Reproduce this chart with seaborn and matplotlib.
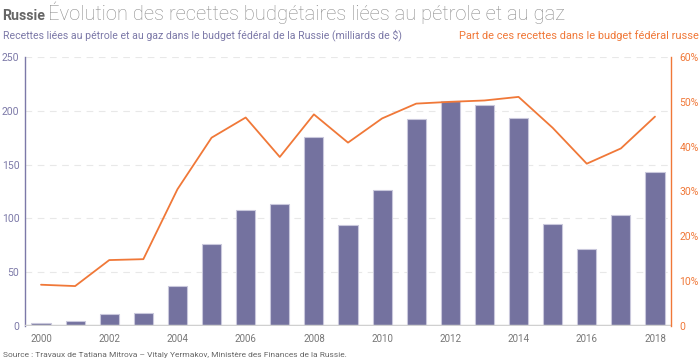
import matplotlib
matplotlib.use("Agg")
import matplotlib.pyplot as plt
import numpy as np
import pandas as pd
import seaborn as sns

# --- Données ---
annees = list(range(2000, 2019))
recettes = [3, 5, 11, 12, 37, 76, 108, 113, 176, 94, 126, 192, 209, 205, 193, 95, 72, 103, 143]
part_pct = [9.2, 8.9, 14.7, 14.9, 30.5, 42.0, 46.5, 37.7, 47.2, 40.9, 46.3, 49.6, 50.0, 50.3, 51.1, 44.2, 36.2, 39.6, 46.7]
ticks_gauche = [0, 50, 100, 150, 200, 250]
ticks_droite = [0, 10, 20, 30, 40, 50, 60]

violet = "#74729f"
violet_txt = "#7c79a8"
orange = "#f07838"

df = pd.DataFrame({"annee": annees, "recettes": recettes, "part": part_pct})
df["pos"] = np.arange(len(df))

sns.set_theme(style="white")
plt.rcParams["font.family"] = ["Roboto", "DejaVu Sans"]

fig = plt.figure(figsize=(7, 3.63), dpi=100)
ax = fig.add_axes([0.0357, 0.102, 0.9229, 0.741])

sns.barplot(data=df, x="pos", y="recettes", color=violet, saturation=1,
            width=0.56, edgecolor="#c9c8dc", linewidth=0.8, ax=ax, zorder=2)
ax.set_xlim(-0.47, 18.47)
ax.set_ylim(0, 250)
ax.set_yticks(ticks_gauche)
ax.set_yticklabels([str(t) for t in ticks_gauche], color=violet_txt, fontsize=7.5)
ax.set_xticks(df["pos"][::2])
ax.set_xticklabels([str(a) for a in annees[::2]], color="#777777", fontsize=7)
ax.set_xlabel("")
ax.set_ylabel("")
ax.tick_params(axis="x", length=0, pad=6)
ax.tick_params(axis="y", length=0, pad=4)
for y in ticks_gauche[1:]:
    ax.axhline(y, color="#e8e8e8", lw=0.8, ls=(0, (6, 5)), zorder=0)

ax2 = ax.twinx()
sns.lineplot(data=df, x="pos", y="part", color=orange, lw=1.3, ax=ax2, zorder=3)
ax2.set_ylim(0, 60)
ax2.set_yticks(ticks_droite)
ax2.set_yticklabels(["0"] + [f"{t}%" for t in ticks_droite[1:]], color=orange, fontsize=7.5)
ax2.tick_params(axis="y", length=0, pad=6)
ax2.set_ylabel("")
ax2.set_xlim(-0.47, 18.47)

for a in (ax, ax2):
    for s in a.spines.values():
        s.set_visible(False)
ax.spines["left"].set_visible(True)
ax.spines["left"].set_color(violet_txt)
ax.spines["left"].set_linewidth(1)
ax2.spines["right"].set_visible(True)
ax2.spines["right"].set_color(orange)
ax2.spines["right"].set_linewidth(1)
ax.axhline(0, color="#d0d0d0", lw=2.5, zorder=4)

# --- Titres ---
fig.text(0.003, 0.945, "Russie", fontsize=10.2, fontweight="bold", color="#666666", va="baseline")
fig.text(0.069, 0.945, "Évolution des recettes budgétaires liées au pétrole et au gaz",
         fontsize=14.5, fontweight="light", color="#8c8c8c", va="baseline")
fig.text(0.004, 0.893, "Recettes liées au pétrole et au gaz dans le budget fédéral de la Russie (milliards de $)",
         fontsize=7.6, color=violet_txt, va="baseline")
fig.text(0.999, 0.893, "Part de ces recettes dans le budget fédéral russe",
         fontsize=7.9, color=orange, va="baseline", ha="right")
fig.text(0.004, 0.022, "Source : Travaux de Tatiana Mitrova – Vitaly Yermakov, Ministère des Finances de la Russie.",
         fontsize=6.05, color="#666666", va="center")

fig.savefig("out.png", dpi=100)
